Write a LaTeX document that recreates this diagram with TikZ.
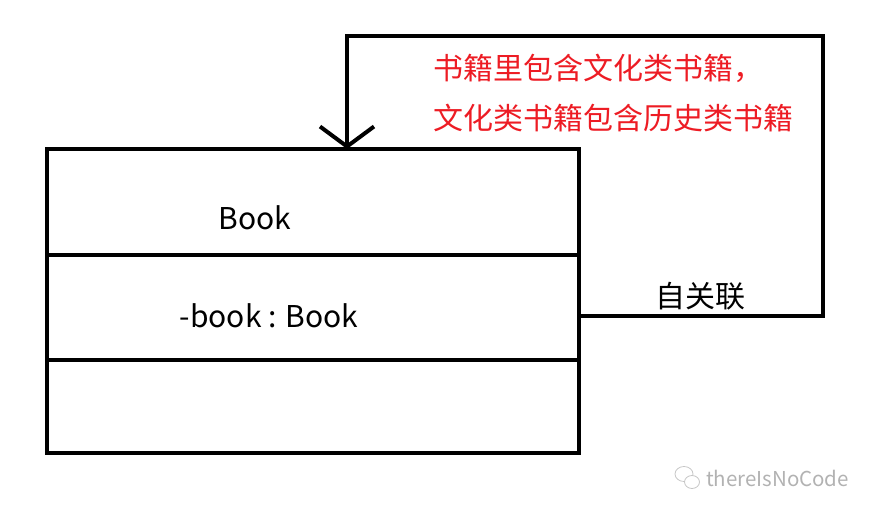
\documentclass[tikz,border=0pt]{standalone}
\usepackage{fontspec}
\setmainfont{Noto Sans CJK SC}
\usepackage{tikz}
\usetikzlibrary{arrows.meta, positioning}
\definecolor{paintred}{RGB}{237,28,36}

\begin{document}
\begin{tikzpicture}[x=1pt, y=-1pt, line width=4pt, every node/.style={inner sep=0pt, font=\fontsize{30}{33}\selectfont}]
\useasboundingbox (0,0) rectangle (879,514);
% class Book
\node[draw, minimum width=532pt, minimum height=304pt, outer sep=0pt] (book) at (313,301) {};
\draw (book.west |- 0,255) -- (book.east |- 0,255);
\draw (book.west |- 0,360) -- (book.east |- 0,360);
\node (name) at (255,218) {Book};
\node (attr) at (269,316) {-book : Book};
% self association
\draw[-{Straight Barb[length=20pt, width=54pt]}] ([yshift=-15pt]book.east) -| (823,36) -| ([xshift=34pt]book.north);
\node (self) at (700,296) {自关联};
\node[text=paintred, align=left, anchor=west, font=\fontsize{30}{50}\selectfont] (note) at (431,93) {书籍里包含文化类书籍，\\文化类书籍包含历史类书籍};
% watermark
\node[text=gray!60, anchor=west, font=\fontsize{20.5}{22}\selectfont] (mark) at (704,478) {thereIsNoCode};
\draw[gray!45, line width=0.8pt] (684,474) ellipse (9pt and 7.5pt);
\draw[gray!45, line width=0.8pt, fill=white] (692,482) ellipse (7.5pt and 6.5pt);
\end{tikzpicture}
\end{document}
